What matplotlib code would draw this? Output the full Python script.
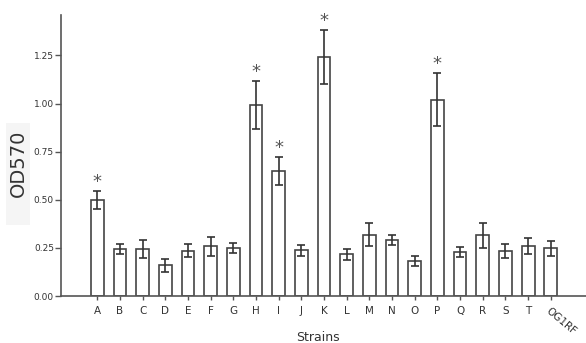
import numpy as np
import matplotlib.pyplot as plt
from matplotlib.patches import Rectangle

strains = ['A', 'B', 'C', 'D', 'E', 'F', 'G', 'H', 'I', 'J', 'K',
           'L', 'M', 'N', 'O', 'P', 'Q', 'R', 'S', 'T', 'OG1RF']
od570 = [0.50, 0.245, 0.245, 0.16, 0.236, 0.259, 0.248, 0.992, 0.651, 0.238, 1.243,
         0.217, 0.318, 0.29, 0.181, 1.021, 0.229, 0.316, 0.234, 0.259, 0.247]
err = [0.048, 0.026, 0.047, 0.033, 0.035, 0.049, 0.026, 0.124, 0.073, 0.028, 0.141,
       0.028, 0.059, 0.026, 0.026, 0.14, 0.026, 0.066, 0.036, 0.043, 0.038]
signif = ['A', 'H', 'I', 'K', 'P']

fig = plt.figure(figsize=(5.86, 3.43), dpi=100)
ax = fig.add_axes([0.104, 0.137, 0.896, 0.819])

# faint shaded patch behind the y label (as in the scanned figure)
fig.patches.append(Rectangle((0.0102, 0.344), 0.041, 0.297, transform=fig.transFigure,
                             facecolor='#f5f5f5', edgecolor='none', zorder=-1))

x = np.arange(len(strains))
ax.bar(x, od570, width=0.56, color='white', edgecolor='#444444', linewidth=1.2,
       yerr=err, error_kw=dict(ecolor='#333333', elinewidth=1.2, capsize=3, capthick=1.2))

# asterisks for significant strains
for i, s in enumerate(strains):
    if s in signif:
        ax.annotate('*', (x[i], od570[i] + err[i]), xytext=(0, 0), textcoords='offset points',
                    ha='center', va='bottom', fontsize=13, color='#555555')

ax.set_xlim(-1.6, 21.55)
ax.set_ylim(0, 1.46)
ax.set_yticks([0, 0.25, 0.5, 0.75, 1.0, 1.25])
ax.set_yticklabels(['0.00', '0.25', '0.50', '0.75', '1.00', '1.25'])
ax.set_xticks(x)
ax.set_xticklabels(strains)
lbl = ax.get_xticklabels()[-1]
lbl.set_rotation(-40)
lbl.set_ha('left')
lbl.set_rotation_mode('anchor')

for sp in ['top', 'right']:
    ax.spines[sp].set_visible(False)
for sp in ['left', 'bottom']:
    ax.spines[sp].set_color('#555555')
    ax.spines[sp].set_linewidth(1.2)

ax.tick_params(axis='y', length=4, width=1, color='#555555', labelsize=6.5, labelcolor='#333333', pad=1)
ax.tick_params(axis='x', length=3, width=1, color='#555555', labelsize=7.5, labelcolor='#333333', pad=4)

ax.set_xlabel('Strains', fontsize=9, color='#333333', va='center')
ax.xaxis.set_label_coords(0.49, -0.146)
ax.set_ylabel('OD570', fontsize=14, color='#333333', va='center')
ax.yaxis.set_label_coords(-0.082, 0.473)

fig.savefig('out.png', dpi=100)
